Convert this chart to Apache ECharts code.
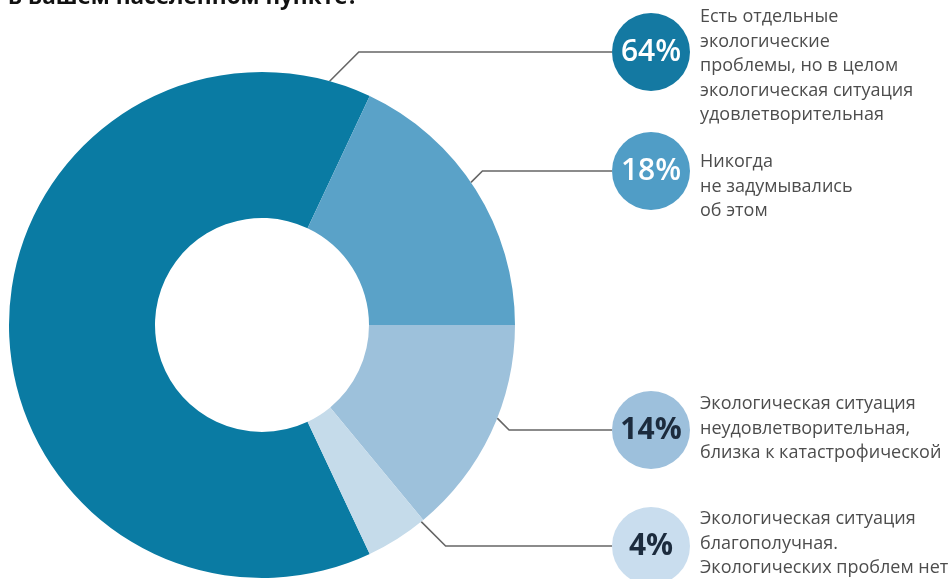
<!DOCTYPE html>
<html>
<head>
<meta charset="utf-8">
<script src="https://cdn.jsdelivr.net/npm/echarts@6/dist/echarts.min.js"></script>
<style>
  html, body { margin: 0; padding: 0; background: #ffffff; }
  #chart { width: 950px; height: 579px; }
</style>
</head>
<body>
<div id="chart"></div>
<script>
// ---- data ----
const titleText = 'в вашем населенном пункте?';
const categories = [
  'Есть отдельные\nэкологические\nпроблемы, но в целом\nэкологическая ситуация\nудовлетворительная',
  'Никогда\nне задумывались\nоб этом',
  'Экологическая ситуация\nнеудовлетворительная,\nблизка к катастрофической',
  'Экологическая ситуация\nблагополучная.\nЭкологических проблем нет'
];
const values = [64, 18, 14, 4];

// ---- style / layout ----
const sliceColors = ['#0a7ba3', '#5aa2c8', '#9dc1db', '#c5dbea'];
const badgeColors = ['#1479a2', '#509dc6', '#9dc0dc', '#c9ddee'];
const badgeText = ['#ffffff', '#ffffff', '#1c2b3d', '#1c2b3d'];
const badgeWeight = [600, 600, 700, 700];
const CX = 262, CY = 325, R0 = 107, R1 = 253;
const badgeX = 612, badgeSize = 78;
const badgeY = [52, 171, 430, 546];
const anchorDeg = [74.5, 34.3, -21.6, -51];
const descX = 700;
const descTop = [5, 150, 392, 507];

const rich = {};
values.forEach((v, i) => {
  rich['b' + i] = {
    width: badgeSize, height: badgeSize, lineHeight: badgeSize,
    borderRadius: badgeSize / 2, backgroundColor: badgeColors[i],
    color: badgeText[i], align: 'center',
    fontFamily: 'Open Sans', fontWeight: badgeWeight[i], fontSize: 30
  };
});

const chart = echarts.init(document.getElementById('chart'), null, { renderer: 'canvas' });
const pieData = values.map((v, i) => ({ name: categories[i], value: v, itemStyle: { color: sliceColors[i] } }));

chart.setOption({
  animation: false,
  backgroundColor: '#ffffff',
  graphic: [{
    type: 'text', left: 8, top: -14,
    style: { text: titleText, fontFamily: 'Open Sans', fontWeight: 'bold', fontSize: 22.5, fill: '#111111' }
  }],
  series: [
    {
      type: 'pie',
      center: [CX, CY],
      radius: [R0, R1],
      startAngle: 295.2,
      clockwise: true,
      avoidLabelOverlap: false,
      silent: true,
      data: pieData,
      label: {
        show: true,
        position: 'outside',
        formatter: p => '{b' + p.dataIndex + '|' + p.value + '%}',
        rich: rich
      },
      labelLine: { show: true, length: 10, length2: 10, smooth: false, lineStyle: { color: '#666666', width: 1.6 } },
      labelLayout: function (p) {
        const i = p.dataIndex;
        const a = anchorDeg[i] * Math.PI / 180;
        const sx = CX + R1 * Math.cos(a);
        const sy = CY - R1 * Math.sin(a);
        const ty = badgeY[i];
        const bx = sx + Math.abs(ty - sy);
        return {
          x: badgeX, y: ty, align: 'left', verticalAlign: 'middle',
          labelLinePoints: [[sx, sy], [bx, ty], [badgeX, ty]]
        };
      }
    },
    {
      type: 'pie',
      center: [CX, CY],
      radius: [R0, R1],
      startAngle: 295.2,
      clockwise: true,
      avoidLabelOverlap: false,
      silent: true,
      z: 1,
      data: values.map((v, i) => ({ name: categories[i], value: v, itemStyle: { color: 'rgba(0,0,0,0)' } })),
      label: {
        show: true,
        position: 'outside',
        formatter: '{b}',
        color: '#4d4d4d',
        fontFamily: 'Open Sans',
        fontSize: 18,
        lineHeight: 24.5,
        align: 'left'
      },
      labelLine: { show: false },
      labelLayout: function (p) {
        return { x: descX, y: descTop[p.dataIndex], align: 'left', verticalAlign: 'top' };
      }
    }
  ]
});
</script>
</body>
</html>
